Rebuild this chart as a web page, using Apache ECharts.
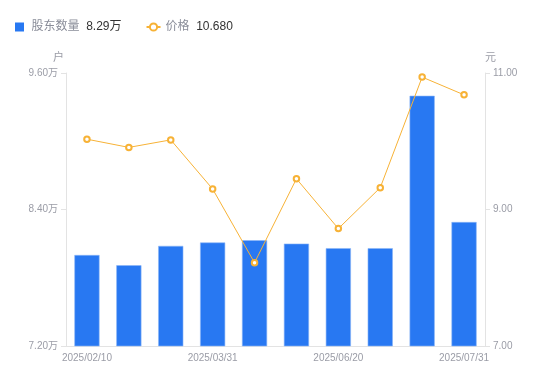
<!DOCTYPE html>
<html><head><meta charset="utf-8">
<script src="https://cdn.jsdelivr.net/npm/echarts@6/dist/echarts.min.js"></script>
<style>html,body{margin:0;padding:0;background:#fff}#c{width:550px;height:381px}</style>
</head><body><div id="c"></div>
<script>
const categories = ['2025/02/10','2025/02/28','2025/03/10','2025/03/31','2025/04/18','2025/05/30','2025/06/20','2025/06/30','2025/07/10','2025/07/31'];
const holders = [8.00, 7.91, 8.08, 8.11, 8.13, 8.10, 8.06, 8.06, 9.40, 8.29]; // 万户
const prices = [10.03, 9.91, 10.02, 9.30, 8.22, 9.45, 8.72, 9.32, 10.94, 10.68];
const leftTicks = [7.2, 8.4, 9.6];
const rightTicks = [7, 9, 11];

const chart = echarts.init(document.getElementById('c'));
const lastH = holders[holders.length-1], lastP = prices[prices.length-1];
const FF = '"Liberation Sans","Noto Sans CJK SC",sans-serif';
chart.setOption({
  animation:false,
  textStyle:{fontFamily:FF},
  legend:{
    left:10, top:16, itemWidth:14, itemHeight:9, itemGap:24, symbolKeepAspect:true,
    data:[{name:'股东数量', icon:'path://M0,0h10v10h-10z', itemStyle:{borderWidth:0}}, {name:'价格'}],
    formatter: n => n==='股东数量' ? '{n|股东数量}  {v|'+lastH.toFixed(2)+'万}' : '{n|价格}  {v|'+lastP.toFixed(3)+'}',
    textStyle:{fontFamily:FF, rich:{n:{color:'#8a8d99',fontSize:12,fontFamily:FF},v:{color:'#333',fontSize:12,fontFamily:FF}}}
  },
  grid:{left:66,right:65,top:73,bottom:35},
  xAxis:{
    type:'category', data:categories,
    axisLine:{lineStyle:{color:'#e3e3e3'}}, axisTick:{show:false},
    axisLabel:{color:'#9a9ca6',fontSize:10,interval:2,margin:7}
  },
  yAxis:[
    {type:'value', name:'户', min:leftTicks[0], max:leftTicks[2], interval:1.2,
     nameTextStyle:{color:'#9a9ca6',fontSize:11,align:'right',padding:[0,2,0,0]}, nameGap:10,
     axisLine:{show:true,lineStyle:{color:'#e3e3e3'}}, axisTick:{show:true,length:5,lineStyle:{color:'#e3e3e3'}},
     splitLine:{show:false},
     axisLabel:{color:'#9a9ca6',fontSize:10,margin:8,formatter:v=>v.toFixed(2)+'万'}},
    {type:'value', name:'元', min:rightTicks[0], max:rightTicks[2], interval:2,
     nameTextStyle:{color:'#9a9ca6',fontSize:11,align:'left',padding:[0,0,0,0]}, nameGap:10,
     axisLine:{show:true,lineStyle:{color:'#e3e3e3'}}, axisTick:{show:true,length:5,lineStyle:{color:'#e3e3e3'}},
     splitLine:{show:false},
     axisLabel:{color:'#9a9ca6',fontSize:10,margin:8,formatter:v=>v.toFixed(2)}}
  ],
  series:[
    {name:'股东数量', type:'bar', yAxisIndex:0, data:holders, barWidth:'60%',
     itemStyle:{color:'#2878f2', borderColor:'#8cb6f7', borderWidth:0.6}},
    {name:'价格', type:'line', yAxisIndex:1, data:prices, symbol:'emptyCircle', symbolSize:5.5,
     lineStyle:{color:'#f7b236',width:1}, itemStyle:{color:'#f7b236',borderWidth:1.6}}
  ]
});
</script></body></html>
